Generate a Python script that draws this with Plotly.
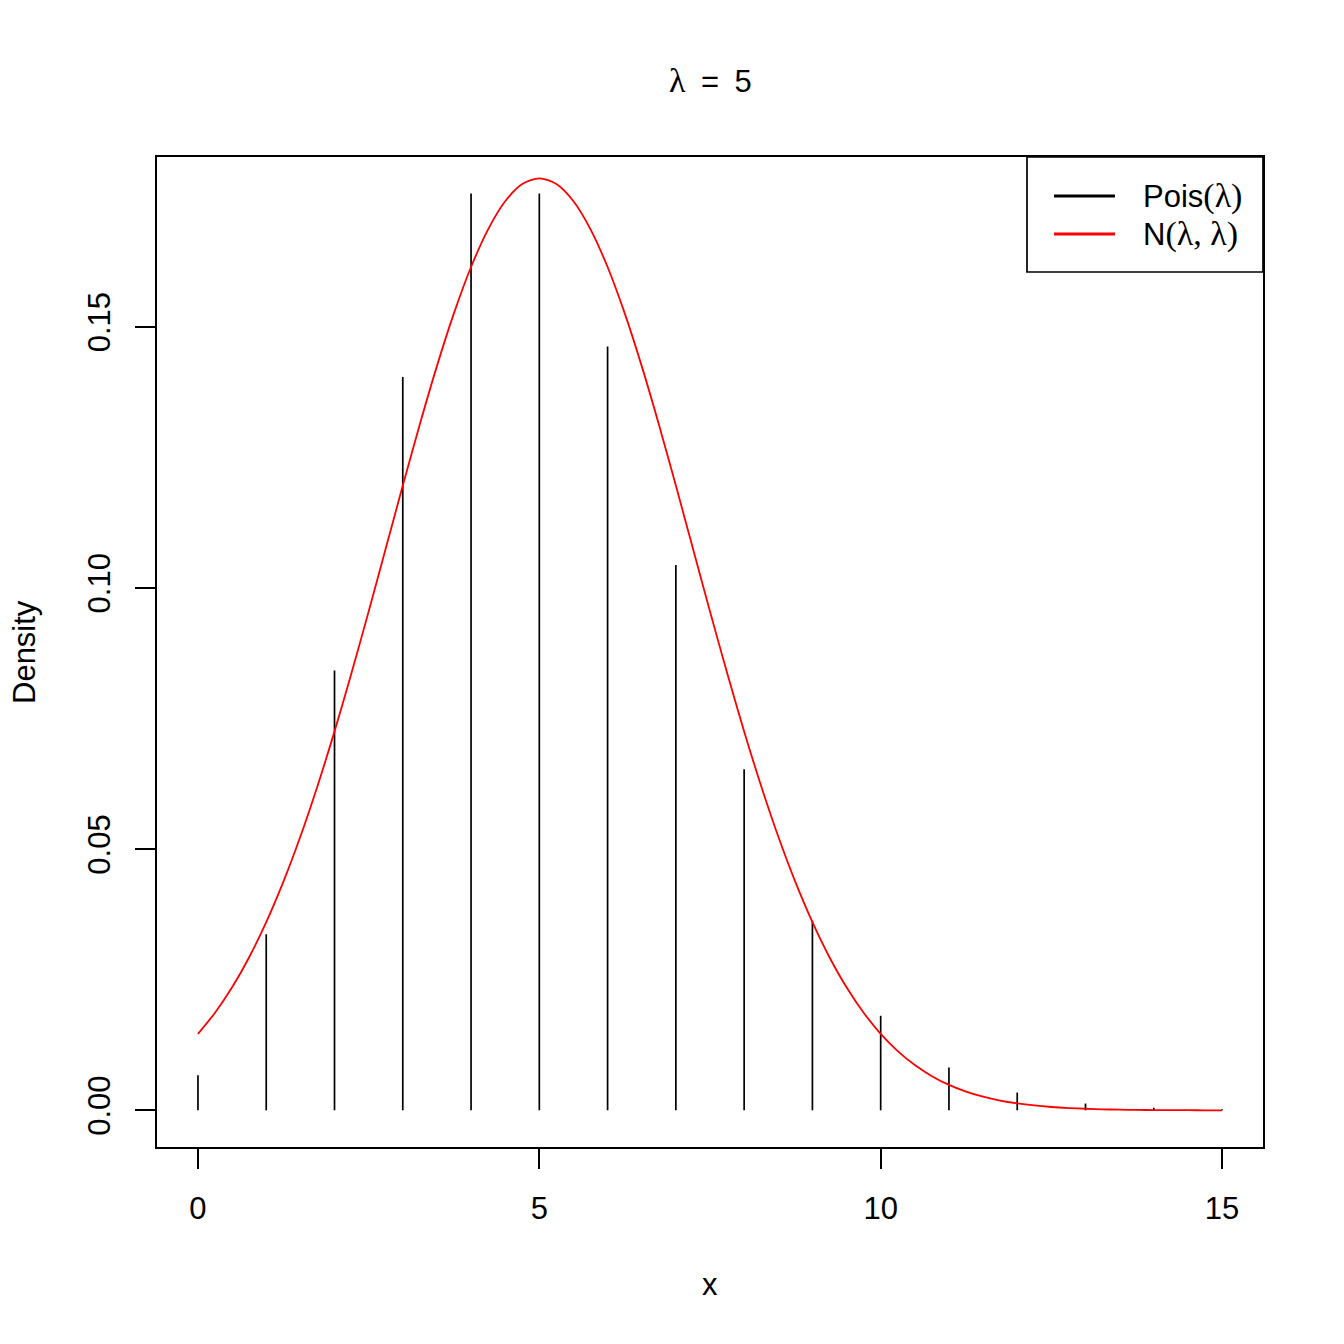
import plotly.graph_objects as go

# Poisson(5) probabilities read from the stems at k = 0..15
pois_k = list(range(16))
pois_p = [0.0067, 0.0337, 0.0842, 0.1404, 0.1755, 0.1755, 0.1462, 0.1044,
          0.0653, 0.0363, 0.0181, 0.0082, 0.0034, 0.0013, 0.0005, 0.0002]

# Normal density curve read at quarter-unit steps from 0 to 15
curve_x = [i * 0.25 for i in range(61)]
curve_y = [0.01464, 0.01869, 0.02355, 0.02931, 0.03602, 0.04372, 0.05241, 0.06205,
           0.07254, 0.08375, 0.09550, 0.10754, 0.11959, 0.13134, 0.14246, 0.15260,
           0.16143, 0.16865, 0.17401, 0.17730, 0.17841, 0.17730, 0.17401, 0.16865,
           0.16143, 0.15260, 0.14246, 0.13134, 0.11959, 0.10754, 0.09550, 0.08375,
           0.07254, 0.06205, 0.05241, 0.04372, 0.03602, 0.02931, 0.02355, 0.01869,
           0.01464, 0.01134, 0.00866, 0.00654, 0.00487, 0.00359, 0.00261, 0.00187,
           0.00133, 0.00093, 0.00064, 0.00044, 0.00030, 0.00020, 0.00013, 0.00008,
           0.00005, 0.00003, 0.00002, 0.00001, 0.00001]

x_ticks = [0, 5, 10, 15]
y_ticks = [0.00, 0.05, 0.10, 0.15]
y_tick_labels = ["0.00", "0.05", "0.10", "0.15"]

FONT = "Liberation Sans, Arial, sans-serif"
FS = 31

def serif(s, size=None):
    sz = f"font-size:{size}px;" if size else ""
    return f"<span style='font-family:serif;{sz}'>{s}</span>"

stem_x, stem_y = [], []
for k, p in zip(pois_k, pois_p):
    stem_x += [k, k, None]
    stem_y += [0, p, None]

fig = go.Figure()
fig.add_trace(go.Scatter(x=stem_x, y=stem_y, mode="lines",
                         line=dict(color="black", width=1.7),
                         name="Pois(λ)", showlegend=False, hoverinfo="skip"))
fig.add_trace(go.Scatter(x=curve_x, y=curve_y, mode="lines",
                         line=dict(color="#ff0000", width=1.8, shape="spline", smoothing=0.8),
                         name="N(λ, λ)", showlegend=False))

OFF = 8  # page offset of the plot div
W = H = 1344 - OFF
L, T = 157 - OFF, 157 - OFF
R, B = 81, 197
pw = W - L - R
ph = H - T - B

# helpers to convert screen pixels into paper fractions
def px(xpix):
    return (xpix - OFF - L) / pw

def py(ypix):
    return (H - B - (ypix - OFF)) / ph

shapes = [
    dict(type="rect", xref="paper", yref="paper", x0=px(1027), x1=1,
         y0=py(272), y1=1, line=dict(color="black", width=1.7),
         fillcolor="white", layer="above"),
    dict(type="line", xref="paper", yref="paper", x0=px(1054), x1=px(1115),
         y0=py(196), y1=py(196), line=dict(color="black", width=3)),
    dict(type="line", xref="paper", yref="paper", x0=px(1054), x1=px(1115),
         y0=py(234), y1=py(234), line=dict(color="#ff0000", width=3)),
]

annotations = [
    dict(text="Pois" + serif("(λ)", 34), xref="paper", yref="paper", x=px(1141), y=py(196),
         xanchor="left", yanchor="middle", showarrow=False,
         font=dict(family=FONT, size=FS, color="black")),
    dict(text="N" + serif("(λ, λ)", 34), xref="paper", yref="paper", x=px(1141), y=py(234),
         xanchor="left", yanchor="middle", showarrow=False,
         font=dict(family=FONT, size=FS, color="black")),
    dict(text=serif("λ", 34) + "\u2002=\u20025", xref="paper", yref="paper", x=0.5, y=1,
         xanchor="center", yanchor="middle", yshift=157 - 80, showarrow=False,
         font=dict(family=FONT, size=FS, color="black")),
    dict(text="x", xref="paper", yref="paper", x=0.5, y=0,
         xanchor="center", yanchor="middle", yshift=-(1284 - 1147),
         showarrow=False, font=dict(family=FONT, size=FS, color="black")),
    dict(text="Density", xref="paper", yref="paper", x=0, y=0.5,
         xanchor="center", yanchor="middle", xshift=-(157 - 24), textangle=-90,
         showarrow=False, font=dict(family=FONT, size=FS, color="black")),
]

fig.update_layout(
    width=W, height=H,
    margin=dict(l=L, r=R, t=T, b=B, pad=0),
    paper_bgcolor="white", plot_bgcolor="white",
    font=dict(family=FONT, size=FS, color="black"),
    showlegend=False,
    shapes=shapes,
    annotations=annotations,
    xaxis=dict(range=[-0.6, 15.6], tickvals=x_ticks, ticktext=[str(v) for v in x_ticks],
               ticks="outside", ticklen=20, tickwidth=1.7, tickcolor="black",
               showline=True, linecolor="black", linewidth=1.7, mirror=True,
               showgrid=False, zeroline=False, ticklabelstandoff=13,
               tickfont=dict(family=FONT, size=FS, color="black")),
    yaxis=dict(range=[-0.00702, 0.18249], tickvals=y_ticks, ticktext=y_tick_labels,
               ticks="outside", ticklen=20, tickwidth=1.7, tickcolor="black",
               showline=True, linecolor="black", linewidth=1.7, mirror=True,
               showgrid=False, zeroline=False, tickangle=-90, ticklabelstandoff=13,
               tickfont=dict(family=FONT, size=FS, color="black")),
)

fig.write_html("out.html")
